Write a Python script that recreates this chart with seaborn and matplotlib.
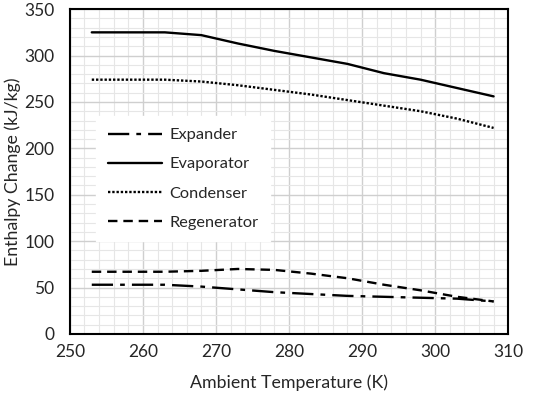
import matplotlib
matplotlib.use("Agg")
import matplotlib.pyplot as plt
import seaborn as sns
import pandas as pd
from matplotlib.ticker import MultipleLocator

temperature = [253, 258, 263, 268, 273, 278, 283, 288, 293, 298, 303, 308]
expander = [53, 53, 53, 51, 48, 45, 43, 41, 40, 39, 38, 35]
evaporator = [325, 325, 325, 322, 313, 305, 298, 291, 281, 274, 265, 256]
condenser = [274, 274, 274, 272, 268, 263, 258, 252, 246, 240, 232, 222]
regenerator = [67, 67, 67, 68, 70, 69, 65, 60, 53, 47, 40, 35]

series = {"Expander": expander, "Evaporator": evaporator,
          "Condenser": condenser, "Regenerator": regenerator}
styles = {"Expander": (0, (9, 3, 2, 3)),
          "Evaporator": "-",
          "Condenser": (0, (1, 0.8)),
          "Regenerator": (0, (4, 2.5))}

rows = []
for name, vals in series.items():
    for t, v in zip(temperature, vals):
        rows.append({"T": t, "H": v, "Component": name})
df = pd.DataFrame(rows)

sns.set_style("white")
plt.rcParams["font.family"] = ["Lato", "DejaVu Sans"]

fig = plt.figure(figsize=(5.5, 3.98), dpi=100)
ax = fig.add_axes([0.127, 0.161, 0.797, 0.816])

for name in series:
    sub = df[df["Component"] == name]
    sns.lineplot(data=sub, x="T", y="H", ax=ax, color="black", lw=1.7,
                 linestyle=styles[name], label=name)

ax.set_xlim(250, 310)
ax.set_ylim(0, 350)
ax.xaxis.set_major_locator(MultipleLocator(10))
ax.xaxis.set_minor_locator(MultipleLocator(2))
ax.yaxis.set_major_locator(MultipleLocator(50))
ax.yaxis.set_minor_locator(MultipleLocator(10))
ax.grid(which="major", color="#cfcfcf", lw=1.0)
ax.grid(which="minor", color="#e6e6e6", lw=0.8)
ax.set_axisbelow(True)
for s in ax.spines.values():
    s.set_color("black")
    s.set_linewidth(1.5)
ax.tick_params(axis="y", which="both", length=0, labelsize=12.5, pad=11)
ax.tick_params(axis="x", which="both", length=0, labelsize=12.5, pad=7)
ax.set_xlabel("Ambient Temperature (K)", fontsize=12.8, labelpad=11)
ax.set_ylabel("Enthalpy Change (kJ/kg)", fontsize=12.8)
ax.yaxis.set_label_coords(-0.112, 0.5)

leg = ax.legend(loc="upper left", bbox_to_anchor=(0.06, 0.67), frameon=True,
                fontsize=11.8, handlelength=3.3, labelspacing=0.9,
                borderpad=0.7, handletextpad=0.45, fancybox=False,
                borderaxespad=0)
leg.get_frame().set_edgecolor("white")
leg.get_frame().set_facecolor("white")
leg.get_frame().set_alpha(1)

fig.savefig("out.png", dpi=100)
